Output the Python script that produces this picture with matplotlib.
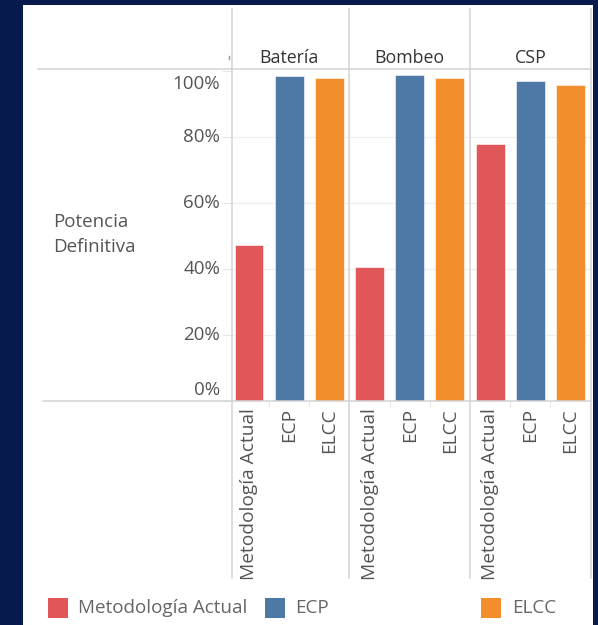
import matplotlib
matplotlib.use("Agg")
import matplotlib.pyplot as plt
from matplotlib.patches import Rectangle
from matplotlib.lines import Line2D
from matplotlib.transforms import blended_transform_factory

plt.rcParams['font.family'] = ['Open Sans', 'DejaVu Sans']

# ---- data ----
groups = ["Batería", "Bombeo", "CSP"]
methods = ["Metodología Actual", "ECP", "ELCC"]
metodologia_actual = [47.3, 40.6, 77.8]
ecp = [98.5, 98.9, 97.1]
elcc = [97.9, 97.9, 95.7]
yticks = [0, 20, 40, 60, 80, 100]
ytick_labels = ["0%", "20%", "40%", "60%", "80%", "100%"]

colors = {"Metodología Actual": "#e15759", "ECP": "#4e79a7", "ELCC": "#f28e2b"}
series = {"Metodología Actual": metodologia_actual, "ECP": ecp, "ELCC": elcc}

W, H = 598, 625
fig = plt.figure(figsize=(W / 100, H / 100), dpi=100)
fig.patch.set_facecolor("#071a4e")

def fx(px):
    return px / W

def fy(py):
    return 1 - py / H

# white panel
fig.patches.append(Rectangle((fx(23), fy(625)), fx(593) - fx(23), fy(5) - fy(625),
                             transform=fig.transFigure, facecolor="white",
                             edgecolor="none", zorder=-5))

ax = fig.add_axes([fx(232), fy(401), fx(590.6) - fx(232), fy(69) - fy(401)])
ax.set_zorder(1)
ax.set_facecolor("none")
ax.set_xlim(-0.423, 8.5)
ax.set_ylim(0, 100.6)

text_color = "#555555"
line_color = "#d3d3d3"

bar_w = 0.72
for gi, g in enumerate(groups):
    for mi, m in enumerate(methods):
        x = gi * 3 + mi
        ax.bar(x, series[m][gi], width=bar_w, color=colors[m], zorder=3,
               edgecolor="white", linewidth=0.4)

# grid lines
for v in [20, 40, 60, 80]:
    ax.axhline(v, color="#eeeeee", lw=0.9, zorder=1)

for sp in ax.spines.values():
    sp.set_visible(False)

# y ticks
ax.set_yticks(yticks)
ax.set_yticklabels([""] * len(yticks))
ax.tick_params(axis="y", length=7, color="#e6e6e6", width=0.8)
for v, lab in zip(yticks, ytick_labels):
    dy = 0
    if v == 0:
        dy = 8.2
    elif v == 100:
        dy = -9.4
    ax.annotate(lab, xy=(0, v), xycoords=("axes fraction", "data"),
                xytext=(-8.6, dy), textcoords="offset points",
                ha="right", va="center", fontsize=13.5, color=text_color)

# x tick labels
xpos = [gi * 3 + mi for gi in range(len(groups)) for mi in range(len(methods))]
xlabs = [m for g in groups for m in methods]
ax.set_xticks(xpos)
ax.set_xticklabels(xlabs, rotation=90, va="top", ha="center", fontsize=13.8,
                   color=text_color)
ax.tick_params(axis="x", length=0, pad=5)
ax.set_xticks([0.5, 1.5, 3.5, 4.5, 6.5, 7.5], minor=True)
ax.tick_params(axis="x", which="minor", length=4, color="#e6e6e6", width=0.8)

# header labels
tb = blended_transform_factory(ax.transData, fig.transFigure)
for gi, g in enumerate(groups):
    ax.text(gi * 3 + 1, fy(58), g, transform=tb, ha="center", va="center",
            fontsize=12.8, color="#333333")

# pane dividers
for xv in [-0.423, 2.5, 5.5, 8.5]:
    fig.lines.append(Line2D([xv, xv], [fy(9), fy(578)], transform=tb,
                            color=line_color, lw=1.1, zorder=2))

# small mark left of header
fig.lines.append(Line2D([fx(229), fx(229)], [fy(56), fy(58.5)],
                        transform=fig.transFigure, color="#9a9a9a", lw=1.0))

# top header line and baseline
fig.lines.append(Line2D([fx(38), fx(590.6)], [fy(69), fy(69)],
                        transform=fig.transFigure, color=line_color, lw=1.1))
fig.lines.append(Line2D([fx(43), fx(590.6)], [fy(401), fy(401)],
                        transform=fig.transFigure, color=line_color, lw=1.1,
                        zorder=5))

# y-axis title
fig.text(fx(53), fy(222), "Potencia", ha="left", va="center", fontsize=13.5,
         color=text_color)
fig.text(fx(53), fy(247), "Definitiva", ha="left", va="center", fontsize=13.5,
         color=text_color)

# legend
legend_items = [("Metodología Actual", 48, 78), ("ECP", 265, 295), ("ELCC", 481, 512)]
for name, sx, tx in legend_items:
    fig.patches.append(Rectangle((fx(sx), fy(618)), fx(20), 20 / H,
                                 transform=fig.transFigure,
                                 facecolor=colors[name], edgecolor="none"))
    fig.text(fx(tx), fy(608), name, ha="left", va="center", fontsize=13.6,
             color="#666666")

fig.savefig("out.png", dpi=100, facecolor=fig.get_facecolor())
